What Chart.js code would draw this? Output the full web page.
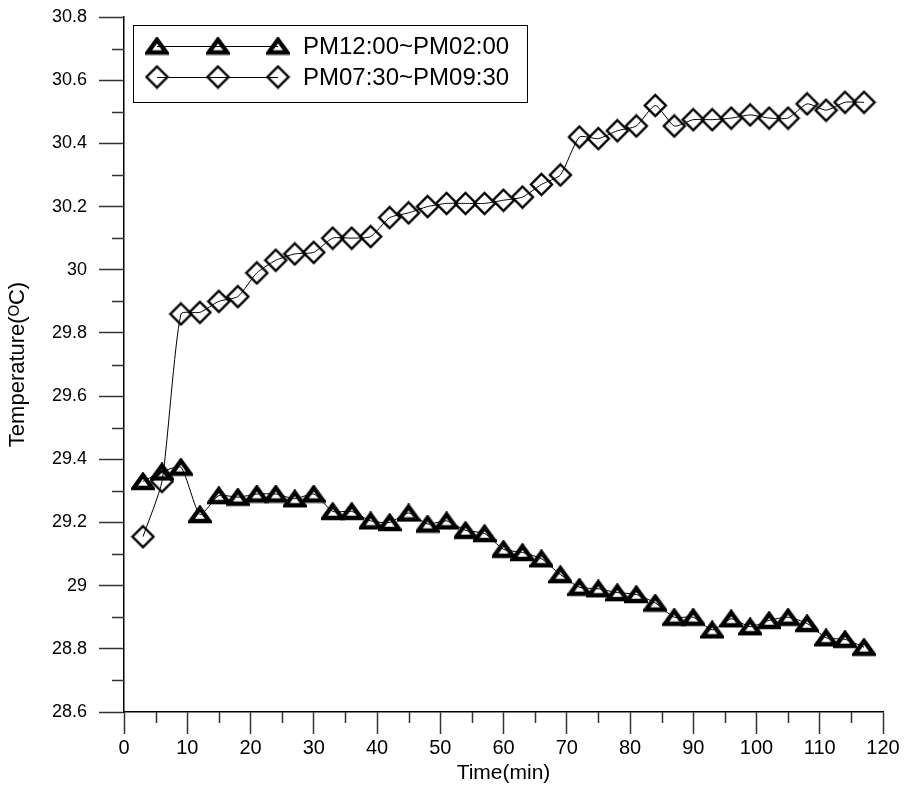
<!DOCTYPE html>
<html>
<head>
<meta charset="utf-8">
<script src="https://cdn.jsdelivr.net/npm/chart.js@4.4.0/dist/chart.umd.min.js"></script>
<style>
  html, body { margin: 0; padding: 0; background: #fff; }
  #wrap { width: 906px; height: 794px; }
</style>
</head>
<body>
<div id="wrap"><canvas id="tempChart" width="906" height="794"></canvas></div>
<script>
// time in minutes
var times = [3, 6, 9, 12, 15, 18, 21, 24, 27, 30, 33, 36, 39, 42, 45, 48, 51, 54, 57, 60,
             63, 66, 69, 72, 75, 78, 81, 84, 87, 90, 93, 96, 99, 102, 105, 108, 111, 114, 117];

// PM12:00~PM02:00
var noonTemps = [29.33, 29.36, 29.375, 29.225, 29.285, 29.28, 29.29, 29.29, 29.275, 29.29,
                 29.235, 29.235, 29.205, 29.2, 29.23, 29.195, 29.205, 29.175, 29.165, 29.115,
                 29.105, 29.085, 29.035, 28.995, 28.99, 28.978, 28.972, 28.945, 28.9, 28.9,
                 28.86, 28.895, 28.87, 28.89, 28.9, 28.88, 28.835, 28.83, 28.805];

// PM07:30~PM09:30
var eveningTemps = [29.155, 29.33, 29.86, 29.865, 29.9, 29.915, 29.99, 30.03, 30.05, 30.055,
                    30.1, 30.1, 30.105, 30.165, 30.18, 30.2, 30.21, 30.21, 30.21, 30.22,
                    30.23, 30.27, 30.3, 30.42, 30.415, 30.44, 30.455, 30.52, 30.455, 30.475,
                    30.475, 30.48, 30.49, 30.48, 30.48, 30.525, 30.505, 30.53, 30.53];

var seriesNames = ['PM12:00~PM02:00', 'PM07:30~PM09:30'];
var xMinorTicks = [5, 15, 25, 35, 45, 55, 65, 75, 85, 95, 105, 115];
var yMinorTicks = [28.7, 28.9, 29.1, 29.3, 29.5, 29.7, 29.9, 30.1, 30.3, 30.5, 30.7];

// marker images
function triangleMarker() {
    var c = document.createElement('canvas');
    c.width = 24; c.height = 19;
    var g = c.getContext('2d');
    g.lineWidth = 4.5;
    g.lineJoin = 'miter';
    g.strokeStyle = '#000';
    g.beginPath();
    g.moveTo(12, 3.2);
    g.lineTo(21.3, 16);
    g.lineTo(2.7, 16);
    g.closePath();
    g.stroke();
    return c;
}

function diamondMarker() {
    var c = document.createElement('canvas');
    c.width = 25; c.height = 25;
    var g = c.getContext('2d');
    g.lineWidth = 2.4;
    g.strokeStyle = '#000';
    g.beginPath();
    g.moveTo(12.5, 2);
    g.lineTo(23, 12.5);
    g.lineTo(12.5, 23);
    g.lineTo(2, 12.5);
    g.closePath();
    g.stroke();
    return c;
}

var triImg = triangleMarker();
var diaImg = diamondMarker();

function toPoints(xs, ys) {
    return xs.map(function (x, i) { return { x: x, y: ys[i] }; });
}

// minor ticks + legend with three markers per row
var extrasPlugin = {
    id: 'extras',
    afterDraw: function (chart) {
        var ctx = chart.ctx;
        var area = chart.chartArea;
        var xs = chart.scales.x, ys = chart.scales.y;
        ctx.save();
        ctx.strokeStyle = '#333';
        ctx.lineWidth = 1.5;
        ctx.beginPath();
        yMinorTicks.forEach(function (v) {
            var py = Math.round(ys.getPixelForValue(v)) + 0.5;
            ctx.moveTo(area.left - 12, py);
            ctx.lineTo(area.left, py);
        });
        xMinorTicks.forEach(function (v) {
            var px = Math.round(xs.getPixelForValue(v)) + 0.5;
            ctx.moveTo(px, area.bottom);
            ctx.lineTo(px, area.bottom + 11);
        });
        ctx.stroke();

        // legend box
        var bx = area.left + 9, by = area.top + 8, bw = 394, bh = 77;
        ctx.fillStyle = '#fff';
        ctx.fillRect(bx, by, bw, bh);
        ctx.strokeStyle = '#000';
        ctx.lineWidth = 1;
        ctx.strokeRect(bx + 0.5, by + 0.5, bw, bh);

        var imgs = [triImg, diaImg];
        var rows = [by + 21, by + 52];
        var mx = [bx + 24, bx + 85, bx + 145];
        ctx.font = '24px "Liberation Sans", Arial, sans-serif';
        ctx.textBaseline = 'middle';
        ctx.fillStyle = '#000';
        chart.data.datasets.forEach(function (ds, i) {
            var ry = rows[i];
            ctx.beginPath();
            ctx.lineWidth = 1;
            ctx.moveTo(mx[0], ry + 0.5);
            ctx.lineTo(mx[2], ry + 0.5);
            ctx.stroke();
            mx.forEach(function (m) {
                var im = imgs[i];
                ctx.drawImage(im, m - im.width / 2, ry - im.height / 2);
            });
            ctx.fillText(ds.label, bx + 170, ry + 1);
        });
        ctx.restore();
    }
};

var tempChart = document.getElementById('tempChart').getContext('2d');
new Chart(tempChart, {
    type: 'line',
    data: {
        datasets: [
            {
                label: seriesNames[0],
                data: toPoints(times, noonTemps),
                borderColor: '#000',
                borderWidth: 1,
                tension: 0.2,
                pointStyle: triImg,
                pointRadius: 10,
                fill: false
            },
            {
                label: seriesNames[1],
                data: toPoints(times, eveningTemps),
                borderColor: '#000',
                borderWidth: 1,
                tension: 0.2,
                pointStyle: diaImg,
                pointRadius: 10,
                fill: false
            }
        ]
    },
    options: {
        responsive: false,
        animation: false,
        events: [],
        layout: {
            padding: { top: 17, right: 23, left: 0, bottom: 0 }
        },
        scales: {
            x: {
                type: 'linear',
                min: 0,
                max: 120,
                ticks: {
                    stepSize: 10,
                    color: '#000',
                    padding: 2,
                    maxRotation: 0,
                    font: { family: '"Liberation Sans Narrow", "Liberation Sans", sans-serif', size: 20 }
                },
                grid: {
                    drawOnChartArea: false,
                    drawTicks: true,
                    tickLength: 22,
                    tickWidth: 1.5,
                    color: '#333'
                },
                border: { display: true, color: '#000', width: 1.5 },
                title: {
                    display: true,
                    text: 'Time(min)',
                    color: '#000',
                    font: { family: '"Liberation Sans Narrow", "Liberation Sans", sans-serif', size: 21 },
                    padding: { top: 0, bottom: 8 }
                },
                afterFit: function (scale) { scale.height = 82; }
            },
            y: {
                min: 28.6,
                max: 30.8,
                ticks: {
                    stepSize: 0.2,
                    color: '#000',
                    padding: 12,
                    font: { family: '"Liberation Sans", Arial, sans-serif', size: 18 },
                    callback: function (v) { return String(Math.round(v * 10) / 10); }
                },
                grid: {
                    drawOnChartArea: false,
                    drawTicks: true,
                    tickLength: 25,
                    tickWidth: 1.5,
                    color: '#333'
                },
                border: { display: true, color: '#000', width: 1.5 },
                title: {
                    display: true,
                    text: 'Temperature(\u1D3CC)',
                    color: '#000',
                    font: { family: '"Liberation Sans Narrow", "Liberation Sans", sans-serif', size: 22 },
                    padding: { top: 5, bottom: 0 }
                },
                afterFit: function (scale) {
                    scale.width = 124;
                    scale.paddingTop = 0;
                    scale.paddingBottom = 0;
                }
            }
        },
        plugins: {
            legend: { display: false },
            tooltip: { enabled: false }
        }
    },
    plugins: [extrasPlugin]
});
</script>
</body>
</html>
